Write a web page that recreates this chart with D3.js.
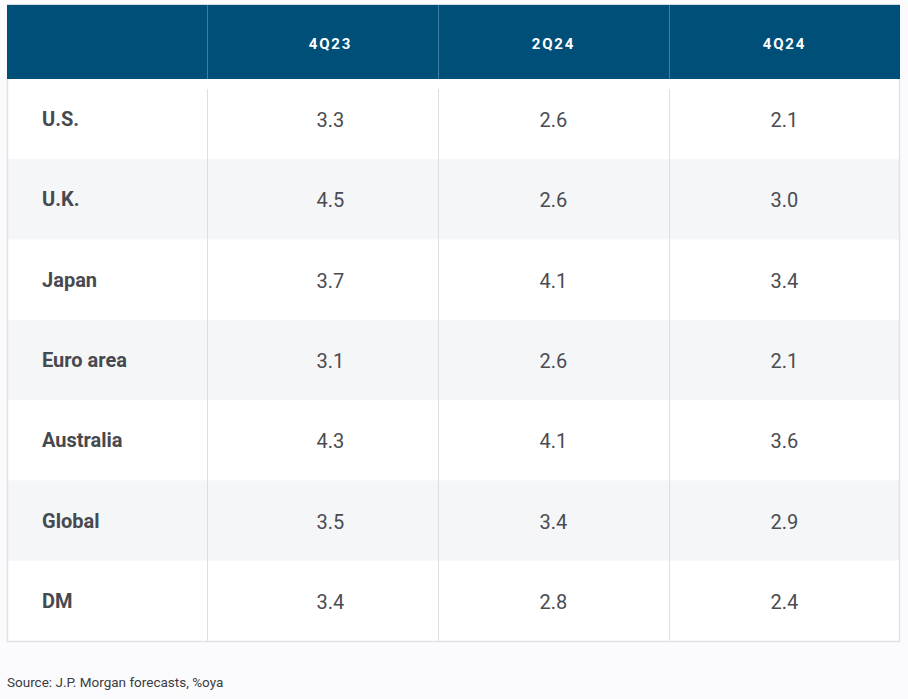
<!DOCTYPE html>
<html><head><meta charset="utf-8">
<script src="https://cdn.jsdelivr.net/npm/d3@7"></script>
<style>body{margin:0;background:#fbfbfd;}svg{display:block;}</style>
</head><body><svg id="c" width="908" height="699"></svg>
<script>
const periods = ["4Q23", "2Q24", "4Q24"];
const regions = ["U.S.", "U.K.", "Japan", "Euro area", "Australia", "Global", "DM"];
const v4Q23 = [3.3, 4.5, 3.7, 3.1, 4.3, 3.5, 3.4];
const v2Q24 = [2.6, 2.6, 4.1, 2.6, 4.1, 3.4, 2.8];
const v4Q24 = [2.1, 3.0, 3.4, 2.1, 3.6, 2.9, 2.4];
const seriesValues = [v4Q23, v2Q24, v4Q24];
const sourceText = "Source: J.P. Morgan forecasts, %oya";

const svg = d3.select("#c");
const left = 7, right = 900, labelW = 200, headTop = 5, headBot = 79, bottom = 641;
const font = "Roboto, 'Open Sans', sans-serif";

const x = d3.scaleBand().domain(periods).range([left + labelW, right]);
const y = d3.scaleBand().domain(regions).range([headBot, bottom]);

// body rows
svg.selectAll("rect.row").data(regions).join("rect")
  .attr("x", left).attr("width", right - left)
  .attr("y", d => y(d)).attr("height", y.bandwidth())
  .attr("fill", (d, i) => i % 2 ? "#f5f6f8" : "#ffffff");

// header
svg.append("rect").attr("x", left).attr("y", headTop).attr("width", right - left)
  .attr("height", headBot - headTop).attr("fill", "#004f78");
svg.append("line").attr("x1", left).attr("x2", right).attr("y1", headTop - 0.5).attr("y2", headTop - 0.5)
  .attr("stroke", "#d6dbe2");

// header dividers
svg.selectAll("line.hd").data(periods).join("line")
  .attr("x1", d => Math.round(x(d)) + 0.5).attr("x2", d => Math.round(x(d)) + 0.5)
  .attr("y1", headTop).attr("y2", headBot).attr("stroke", "#3f7ea6");
// body dividers
svg.selectAll("line.bd").data(periods).join("line")
  .attr("x1", d => Math.round(x(d)) + 0.5).attr("x2", d => Math.round(x(d)) + 0.5)
  .attr("y1", headBot + 10).attr("y2", bottom).attr("stroke", "#dedfe3");

// table outline (sides and bottom)
svg.append("path")
  .attr("d", `M${left + 0.5},${headBot}V${bottom + 0.5}H${right - 0.5}V${headBot}`)
  .attr("fill", "none").attr("stroke", "#e0e1e5").attr("stroke-width", 1.5);

const colOffset = [8, 0, 0];

// header labels
svg.selectAll("text.hl").data(periods).join("text")
  .attr("x", (d, i) => x(d) + x.bandwidth() / 2 + colOffset[i])
  .attr("y", (headTop + headBot) / 2 + 7)
  .attr("text-anchor", "middle").attr("fill", "#ffffff")
  .attr("font-family", font).attr("font-weight", "bold").attr("font-size", 15)
  .attr("letter-spacing", 1.8).text(d => d);

// row labels
svg.selectAll("text.rl").data(regions).join("text")
  .attr("x", 42).attr("y", d => y(d) + y.bandwidth() / 2 + 7)
  .attr("fill", "#464a50").attr("font-family", font).attr("font-weight", "bold")
  .attr("font-size", 20).text(d => d);

// values
periods.forEach((p, j) => {
  svg.selectAll("text.v" + j).data(seriesValues[j]).join("text")
    .attr("x", x(p) + x.bandwidth() / 2 + colOffset[j])
    .attr("y", (d, i) => y(regions[i]) + y.bandwidth() / 2 + 8)
    .attr("text-anchor", "middle").attr("fill", "#4a4c52")
    .attr("font-family", font).attr("font-size", 20)
    .text(d => d3.format(".1f")(d));
});

svg.append("text").attr("x", 7).attr("y", 687).attr("fill", "#3a3c42")
  .attr("font-family", font).attr("font-size", 13.5).text(sourceText);
</script></body></html>
